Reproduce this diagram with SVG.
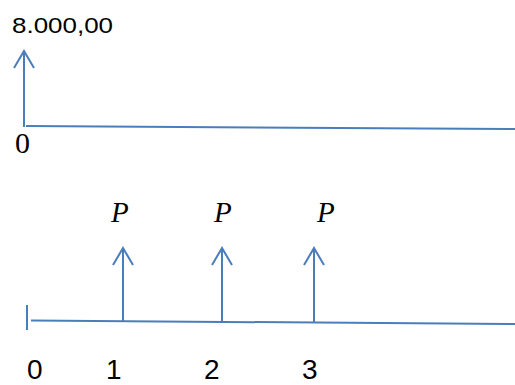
<svg xmlns="http://www.w3.org/2000/svg" width="515" height="385" viewBox="0 0 515 385">
<style>
.ln{stroke:#4a7ebb;stroke-width:2;fill:none}
.sans{font-family:"Liberation Sans",Arial,sans-serif;fill:#000}
.ser{font-family:"Liberation Serif","Times New Roman",serif;fill:#000}
.p{font-family:"Liberation Serif","Times New Roman",serif;font-style:italic;font-size:29px;fill:#000}
.d{font-family:"Liberation Sans",Arial,sans-serif;font-size:28px;fill:#000}
</style>
<rect width="515" height="385" fill="#fff"/>
<g id="connectors">
<line class="ln" x1="24" y1="127" x2="24" y2="51"/>
<polyline class="ln" points="14,68 24,51 34,68"/>
<line class="ln" x1="26" y1="126" x2="515" y2="129"/>
<line class="ln" x1="27" y1="305" x2="27" y2="330"/>
<line class="ln" x1="31" y1="320.5" x2="515" y2="324"/>
<line class="ln" x1="123" y1="322" x2="123" y2="248"/>
<polyline class="ln" points="113,265 123,248 133,265"/>
<line class="ln" x1="222" y1="323" x2="222" y2="248"/>
<polyline class="ln" points="212,265 222,248 232,265"/>
<line class="ln" x1="314" y1="323" x2="314" y2="248"/>
<polyline class="ln" points="304,265 314,248 324,265"/>
</g>
<g id="top-value"><text class="sans" x="12" y="33" font-size="22" textLength="101" lengthAdjust="spacingAndGlyphs">8.000,00</text></g>
<g id="top-zero"><text class="ser" x="15" y="153" font-size="30">0</text></g>
<g id="p1"><text class="p" x="111" y="222">P</text></g>
<g id="p2"><text class="p" x="214" y="222">P</text></g>
<g id="p3"><text class="p" x="317" y="222">P</text></g>
<g id="t0"><text class="d" x="27" y="378.5">0</text></g>
<g id="t1"><text class="d" x="106" y="378.5">1</text></g>
<g id="t2"><text class="d" x="204" y="378.5">2</text></g>
<g id="t3"><text class="d" x="302" y="378.5">3</text></g>
</svg>
